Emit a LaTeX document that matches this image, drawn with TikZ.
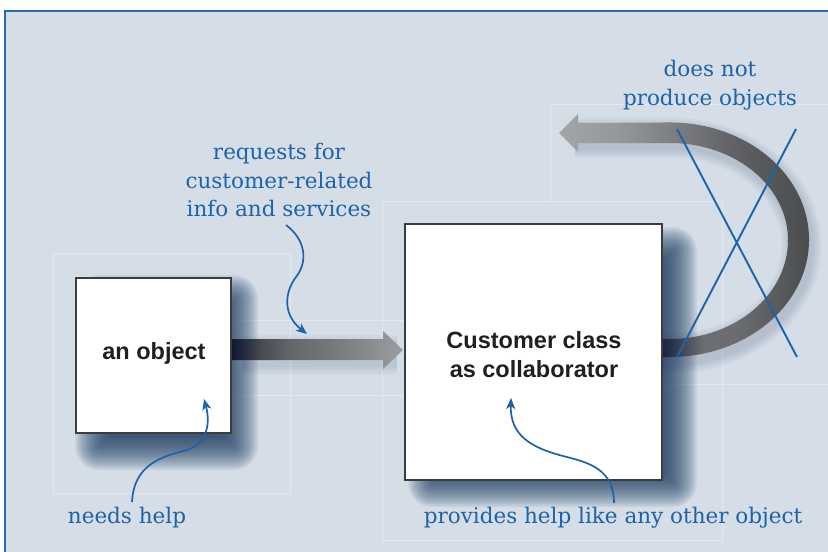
\documentclass[tikz,border=0pt]{standalone}
\usepackage{fontspec}
\setmainfont{DejaVu Serif}
\newfontfamily\boxfont{Liberation Sans}
\usetikzlibrary{arrows.meta}
\definecolor{bgc}{HTML}{D5DDE7}
\definecolor{framec}{HTML}{2A6AB0}
\definecolor{bluec}{HTML}{1D63A8}
\definecolor{ghostc}{HTML}{E3E8EF}
\definecolor{shadowc}{HTML}{1F3D63}
\definecolor{glowc}{HTML}{55667F}
\definecolor{boxline}{HTML}{3C3C3C}
\pgfdeclarehorizontalshading{straightsh}{100bp}{color(0bp)=(rgb,255:red,14;green,24;blue,48); color(25bp)=(rgb,255:red,14;green,24;blue,48); color(29bp)=(rgb,255:red,38;green,44;blue,64); color(34bp)=(rgb,255:red,74;green,76;blue,84); color(42bp)=(rgb,255:red,100;green,101;blue,104); color(57bp)=(rgb,255:red,124;green,125;blue,128); color(75bp)=(rgb,255:red,156;green,157;blue,160); color(100bp)=(rgb,255:red,156;green,157;blue,160)}
\pgfdeclarehorizontalshading{utopsh}{100bp}{color(0bp)=(rgb,255:red,164;green,165;blue,168); color(25bp)=(rgb,255:red,164;green,165;blue,168); color(37bp)=(rgb,255:red,150;green,151;blue,154); color(49bp)=(rgb,255:red,122;green,123;blue,126); color(61bp)=(rgb,255:red,94;green,95;blue,98); color(75bp)=(rgb,255:red,75;green,76;blue,78); color(100bp)=(rgb,255:red,75;green,76;blue,78)}
\pgfdeclarehorizontalshading{ubotsh}{100bp}{color(0bp)=(rgb,255:red,21;green,32;blue,58); color(25bp)=(rgb,255:red,21;green,32;blue,58); color(29bp)=(rgb,255:red,31;green,42;blue,68); color(35bp)=(rgb,255:red,74;green,78;blue,90); color(41bp)=(rgb,255:red,110;green,111;blue,115); color(53bp)=(rgb,255:red,106;green,107;blue,110); color(75bp)=(rgb,255:red,75;green,76;blue,78); color(100bp)=(rgb,255:red,75;green,76;blue,78)}
\tikzset{
  objbox/.style={draw=boxline, line width=1.3pt, fill=white, rectangle, inner sep=0pt},
  boxtext/.style={font=\boxfont\bfseries\fontsize{23.5}{29}\selectfont, text=black!88, align=center},
  note/.style={font=\fontsize{21.5}{28.5}\selectfont, text=bluec, align=center, inner sep=0pt},
  pointer/.style={draw=bluec, line width=1.7pt, -{Stealth[length=11pt,width=9pt,inset=3pt]}},
  xline/.style={draw=bluec, line width=1.9pt},
  ghost/.style={draw=ghostc, line width=0.8pt},
}
\newcommand\softshadow[4]{%
  \foreach \k in {0,...,23}{%
    \pgfmathsetmacro\e{19-1.5*\k}%
    \pgfmathsetmacro\rc{max(2,\e+5)}%
    \fill[shadowc, opacity=0.065, rounded corners=\rc pt] (#1-\e,#2-\e) rectangle (#3+\e,#4+\e);
  }}
\begin{document}
\begin{tikzpicture}[x=1pt,y=-1pt]
\useasboundingbox (0,0) rectangle (828,552);
% background and frame
\fill[white] (0,0) rectangle (828,552);
\fill[bgc] (5,11) rectangle (840,560);
\draw[framec, line width=2.6pt] (5,570) -- (5,11) -- (840,11);
% ghost guide lines
\draw[ghost] (53,253) rectangle (290,493);
\draw[ghost] (231,320) -- (405,320) (231,395) -- (405,395);
\draw[ghost] (382,201) rectangle (722,540);
\draw[ghost] (550,201) -- (550,104) -- (840,104);
\draw[ghost] (662,384) -- (840,384);
% glow of arrows
\foreach \w in {24,28,32,36,40}{
  \draw[glowc, opacity=0.05, line width=\w pt, shift={(3,5)}] (572,133) -- (670,133) arc[start angle=90, end angle=-90, x radius=128.5pt, y radius=107.5pt] -- (660,348);
  \draw[glowc, opacity=0.04, line width=\w pt, shift={(2,5)}] (240,350) -- (395,350);
}
% box shadows
\softshadow{94}{294}{239}{451}
\softshadow{427}{246}{678}{488}
% straight arrow
\shade[shading=straightsh] (231,339) -- (383,339) -- (383,331) -- (403,350) -- (383,369) -- (383,360) -- (231,360) -- cycle;
% U-turn arrow
\shade[shading=utopsh] (578,123) -- (578,114) -- (559,133) -- (578,152) -- (578,143) -- (670,143)
  arc[start angle=90, end angle=-1, x radius=118pt, y radius=97pt] -- (809,241.5)
  arc[start angle=-1, end angle=90, x radius=139pt, y radius=117pt] -- cycle;
\shade[shading=ubotsh] (788,240) arc[start angle=0, end angle=-90, x radius=118pt, y radius=99pt]
  -- (655,339) -- (655,357) -- (670,357)
  arc[start angle=-90, end angle=0, x radius=139pt, y radius=117pt] -- cycle;
% boxes
\node[objbox, minimum width=155pt, minimum height=155pt] (obj) at (153.5,355.5) {};
\node[boxtext] (objtext) at (154,353) {an object};
\node[objbox, minimum width=257pt, minimum height=256pt] (cust) at (533.5,352) {};
\node[boxtext] (custtext) at (534,355) {Customer class\\as collaborator};
% notes
\node[note] (dnp) at (710,85) {does not\\produce objects};
\node[note] (req) at (279,180) {requests for\\customer-related\\info and services};
\node[note, anchor=base] (needs) at (127,523) {needs help};
\node[note, anchor=base] (prov) at (613,523) {provides help like any other object};
% pointers
\coordinate (reqs) at (286,225);
\coordinate (reqt) at (307,334);
\draw[pointer] (reqs) .. controls (306,240) and (308,262) .. (296,277) .. controls (284,293) and (283,315) .. (reqt);
\coordinate (needss) at (132,502);
\coordinate (needst) at (204,399);
\draw[pointer] (needss) .. controls (134,465) and (160,457) .. (187,450) .. controls (206,444) and (211,425) .. (needst);
\coordinate (provs) at (614,503);
\coordinate (provt) at (511,398);
\draw[pointer] (provs) .. controls (614,470) and (590,463) .. (567,457) .. controls (530,448) and (510,435) .. (provt);
% cross
\draw[xline] (677,129) -- (797,357);
\draw[xline] (796,129) -- (677,357);
\end{tikzpicture}
\end{document}
